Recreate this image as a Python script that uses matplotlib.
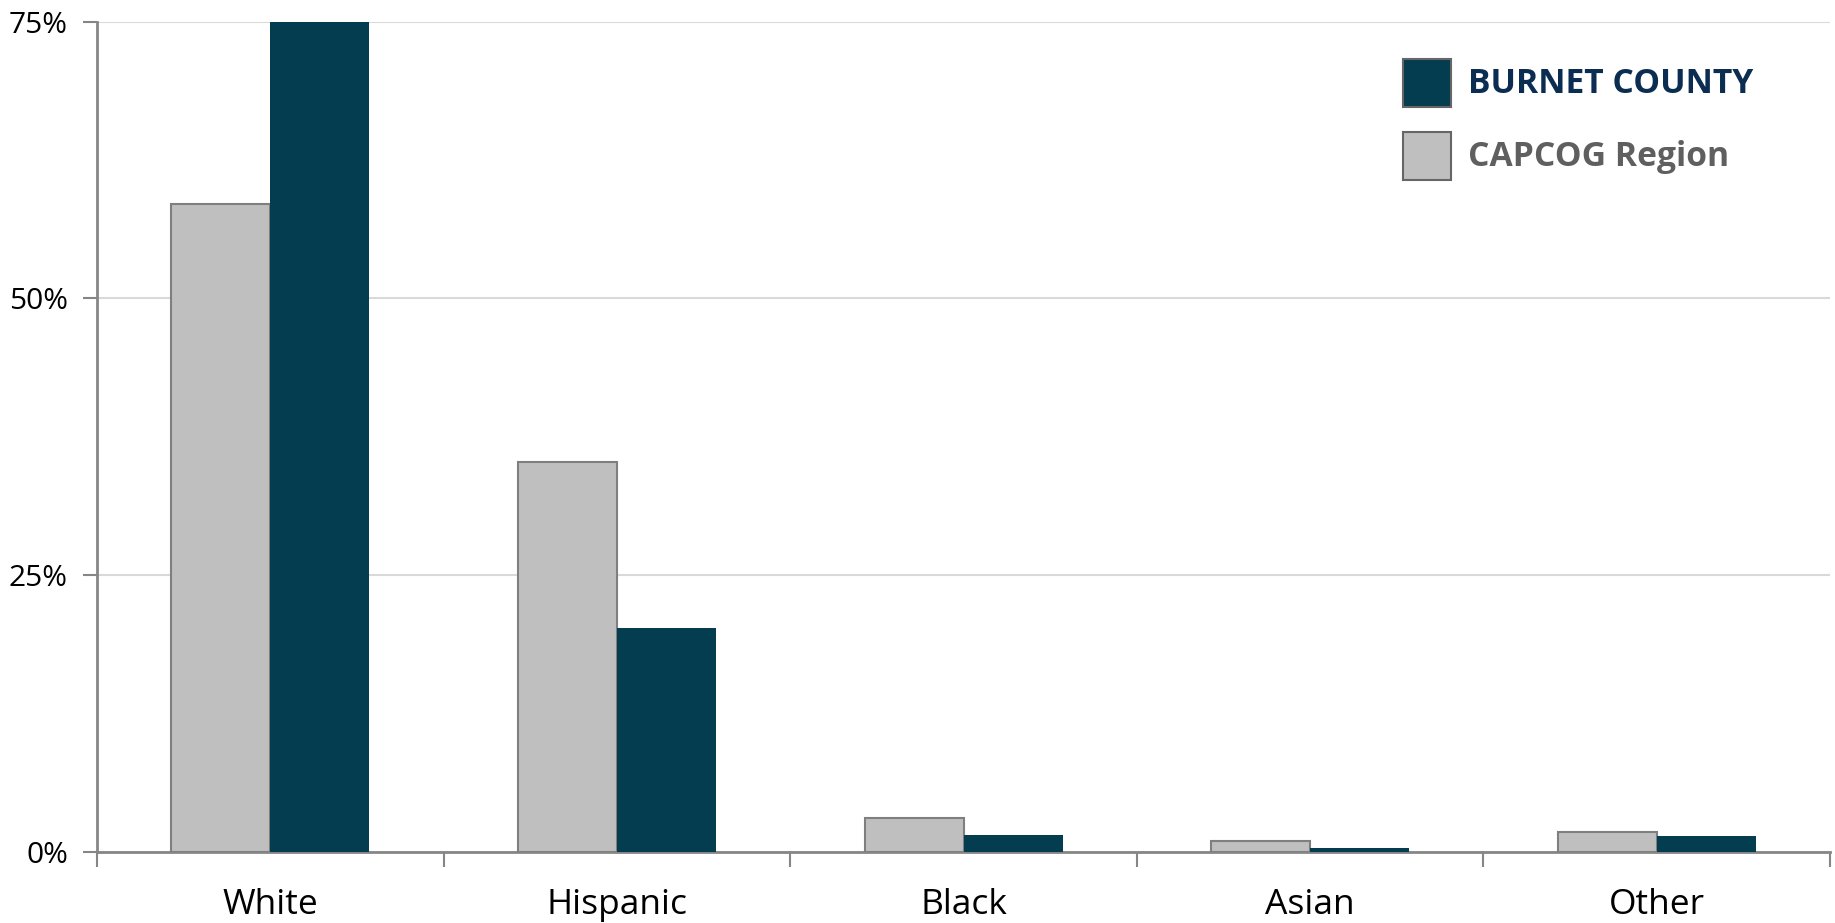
import matplotlib
matplotlib.use("Agg")
import matplotlib.pyplot as plt
from matplotlib.patches import Rectangle
import numpy as np

categories = ["White", "Hispanic", "Black", "Asian", "Other"]
capcog = [58.5, 35.2, 3.1, 1.0, 1.85]
burnet = [81.0, 20.2, 1.55, 0.4, 1.47]
yticks = [0, 25, 50, 75]
ytick_labels = ["0%", "25%", "50%", "75%"]

plt.rcParams['font.family'] = ['Open Sans', 'DejaVu Sans']

NAVY = "#043c50"
GRAY = "#bfbfbf"
EDGE = "#7f7f7f"
SPINE = "#868686"

fig = plt.figure(figsize=(18.35, 9.23), dpi=100)
ax = fig.add_axes([0.0529, 0.0769, 0.9444, 0.8998])

x = np.arange(len(categories))
w = 1 / 3.5
ax.bar(x - w / 2, capcog, width=w, color=GRAY, edgecolor=EDGE, linewidth=1.5, zorder=3)
ax.bar(x + w / 2, burnet, width=w, color=NAVY, edgecolor=NAVY, linewidth=0, zorder=3)

ax.set_xlim(-0.5, len(categories) - 0.5)
ax.set_ylim(0, 75)
ax.set_yticks(yticks)
ax.set_yticklabels(ytick_labels, fontsize=21.5, color="black")
ax.yaxis.grid(True, color="#d9d9d9", linewidth=1.5, zorder=0)
ax.set_axisbelow(True)

ax.set_xticks(x)
ax.set_xticklabels(categories, fontsize=25.5, color="black")
ax.set_xticks(np.arange(-0.5, len(categories)), minor=True)
ax.tick_params(axis='x', which='major', length=0, pad=26)
ax.tick_params(axis='x', which='minor', length=11, width=1.5, color=SPINE, direction='out')
ax.tick_params(axis='y', length=10, width=1.5, color=SPINE, pad=11)

for s in ['top', 'right']:
    ax.spines[s].set_visible(False)
for s in ['left', 'bottom']:
    ax.spines[s].set_color(SPINE)
    ax.spines[s].set_linewidth(2)

# legend
fig.patches.append(Rectangle((1403 / 1835, 1 - 107 / 923), 48 / 1835, 48 / 923,
                             transform=fig.transFigure, facecolor=NAVY, edgecolor="#666666", linewidth=1.5))
fig.patches.append(Rectangle((1403 / 1835, 1 - 180 / 923), 48 / 1835, 48 / 923,
                             transform=fig.transFigure, facecolor=GRAY, edgecolor="#666666", linewidth=1.5))
fig.text(1468 / 1835, 1 - 84 / 923, "BURNET COUNTY", fontsize=24.2, fontweight='bold',
         color="#0b2d52", va='center', ha='left')
fig.text(1468 / 1835, 1 - 157 / 923, "CAPCOG Region", fontsize=24.2, fontweight='bold',
         color="#5f5f5f", va='center', ha='left')

fig.savefig("out.png", dpi=100)
